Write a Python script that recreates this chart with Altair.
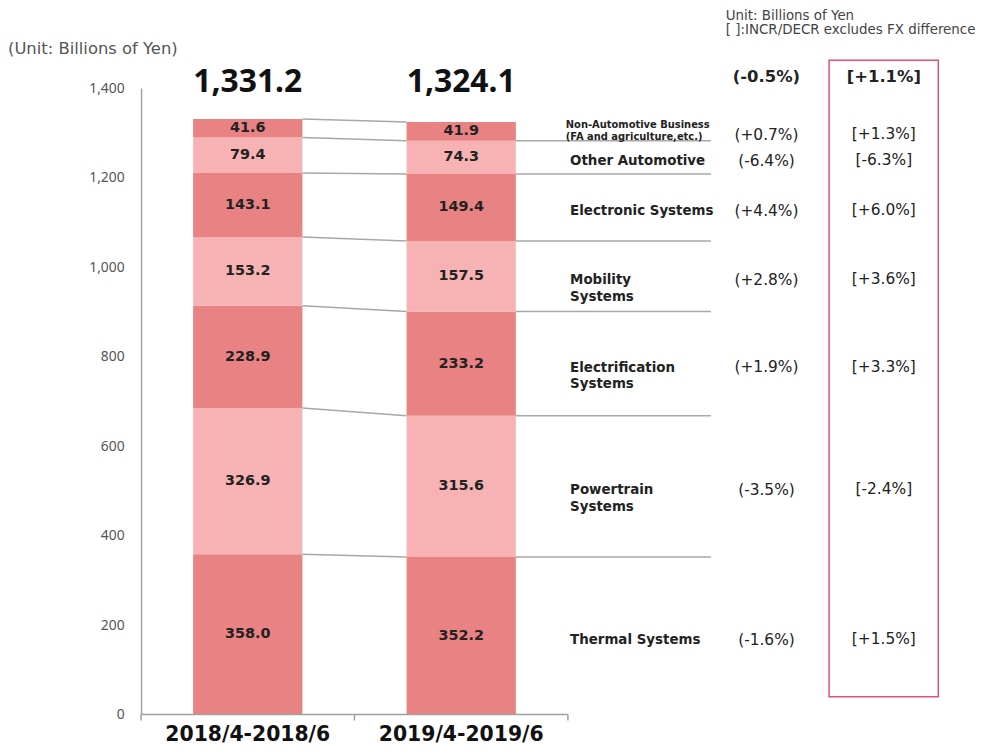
import altair as alt
import pandas as pd

# ---- data ----
categories = ["2018/4-2018/6", "2019/4-2019/6"]
segments = ["Thermal Systems", "Powertrain Systems", "Electrification Systems",
            "Mobility Systems", "Electronic Systems", "Other Automotive",
            "Non-Automotive Business"]
seg_labels = ["Thermal Systems", "Powertrain\nSystems", "Electrification\nSystems",
              "Mobility\nSystems", "Electronic Systems", "Other Automotive",
              "Non-Automotive  Business\n(FA and agriculture,etc.)"]
v2018 = [358.0, 326.9, 228.9, 153.2, 143.1, 79.4, 41.6]
v2019 = [352.2, 315.6, 233.2, 157.5, 149.4, 74.3, 41.9]
totals = ["1,331.2", "1,324.1"]
pct = ["(-1.6%)", "(-3.5%)", "(+1.9%)", "(+2.8%)", "(+4.4%)", "(-6.4%)", "(+0.7%)"]
fx = ["[+1.5%]", "[-2.4%]", "[+3.3%]", "[+3.6%]", "[+6.0%]", "[-6.3%]", "[+1.3%]"]
total_pct = "(-0.5%)"
total_fx = "[+1.1%]"
shades = ["dark", "light", "dark", "light", "dark", "light", "dark"]
y_ticks = [0, 200, 400, 600, 800, 1000, 1200, 1400]

DARK = "#E98282"
LIGHT = "#F7B3B3"
LINE = "#A8A8A8"
BOX = "#E0507A"

W, H = 832, 631
XMAX = 3.87
HALF = 0.256

# ---- tables ----
rows = []
for ci, (cat, vals) in enumerate(zip(categories, [v2018, v2019])):
    base = 0.0
    for si, v in enumerate(vals):
        rows.append(dict(cat=cat, seg=segments[si], shade=shades[si],
                         x0=ci + 0.5 - HALF, x1=ci + 0.5 + HALF, xc=ci + 0.5,
                         y0=base, y1=base + v, ym=base + v / 2, label=f"{v:.1f}"))
        base += v
bars = pd.DataFrame(rows)

b18 = bars[bars.cat == categories[0]].reset_index(drop=True)
b19 = bars[bars.cat == categories[1]].reset_index(drop=True)
conn = pd.DataFrame(dict(xa=b18.x1, xb=b19.x0, ya=b18.y1, yb=b19.y1))
lead = pd.DataFrame(dict(xa=b19.x1.iloc[:-1], xb=[2.67] * 6, ya=b19.y1.iloc[:-1]))
side = pd.DataFrame(dict(name=seg_labels, pct=pct, fx=fx, ym=b19.ym,
                     small=[False] * 6 + [True]))
tot = pd.DataFrame(dict(xc=[0.5, 1.5], t=totals, cat=categories))

xs = alt.Scale(domain=[0, XMAX], nice=False, zero=False)
ys = alt.Scale(domain=[0, 1400], nice=False)
YAX = alt.Axis(values=y_ticks, format=",d", title=None, grid=False, ticks=False,
               labelPadding=17, domainColor="#A0A0A0", domainWidth=1.5,
               labelFont="Noto Sans", labelFontSize=14, labelColor="#555")
FONT = "DejaVu Sans"


def Y(field):
    return alt.Y(field, scale=ys, axis=YAX)


bar_layer = alt.Chart(bars).mark_bar().encode(
    x=alt.X("x0:Q", scale=xs, axis=None),
    x2="x1:Q",
    y=Y("y0:Q"),
    y2="y1:Q",
    color=alt.Color("shade:N", scale=alt.Scale(domain=["dark", "light"], range=[DARK, LIGHT]),
                    legend=None),
)

bar_text = alt.Chart(bars).mark_text(font=FONT, fontWeight="bold", fontSize=14.5,
                                     color="#222").encode(
    x=alt.X("xc:Q", scale=xs, axis=None),
    y=Y("ym:Q"),
    text="label:N",
)

conn_layer = alt.Chart(conn).mark_rule(color=LINE, strokeWidth=1.5).encode(
    x=alt.X("xa:Q", scale=xs, axis=None), x2="xb:Q",
    y=Y("ya:Q"), y2="yb:Q",
)
lead_layer = alt.Chart(lead).mark_rule(color=LINE, strokeWidth=1.5).encode(
    x=alt.X("xa:Q", scale=xs, axis=None), x2="xb:Q",
    y=Y("ya:Q"),
)

tot_layer = alt.Chart(tot).mark_text(font="Noto Sans", fontWeight="bold", fontSize=32,
                                     color="#111").encode(
    x=alt.X("xc:Q", scale=xs, axis=None), y=alt.value(-6), text="t:N",
)
cat_layer = alt.Chart(tot).mark_text(font=FONT, fontWeight="bold", fontSize=20.5,
                                     color="#111", baseline="alphabetic").encode(
    x=alt.X("xc:Q", scale=xs, axis=None), y=alt.value(H + 27), text="cat:N",
)

xaxis_df = pd.DataFrame(dict(a=[0.0], b=[2.0]))
xaxis_line = alt.Chart(xaxis_df).mark_rule(color="#A0A0A0", strokeWidth=1.5).encode(
    x=alt.X("a:Q", scale=xs, axis=None), x2="b:Q", y=alt.value(H),
)
ticks_df = pd.DataFrame(dict(a=[0.0, 1.0, 2.0]))
xticks = alt.Chart(ticks_df).mark_rule(color="#A0A0A0", strokeWidth=1.5).encode(
    x=alt.X("a:Q", scale=xs, axis=None), y=alt.value(H), y2=alt.value(H + 6),
)

names = alt.Chart(side[~side.small]).mark_text(
    font=FONT, fontWeight="bold", fontSize=13.5, color="#222", align="left",
    lineBreak="\n", lineHeight=17, dy=4).encode(
    x=alt.value(2.01 * W / XMAX), y=Y("ym:Q"), text="name:N",
)
names_small = alt.Chart(side[side.small]).mark_text(
    font=FONT, fontWeight="bold", fontSize=10, color="#222", align="left",
    lineBreak="\n", lineHeight=12, dy=-6).encode(
    x=alt.value(1.99 * W / XMAX), y=Y("ym:Q"), text="name:N",
)
pct_layer = alt.Chart(side).mark_text(font=FONT, fontSize=15.5, color="#222", dy=4).encode(
    x=alt.value(2.93 * W / XMAX), y=Y("ym:Q"), text="pct:N",
)
fx_layer = alt.Chart(side).mark_text(font=FONT, fontSize=15.5, color="#222", dy=3).encode(
    x=alt.value(3.48 * W / XMAX), y=Y("ym:Q"), text="fx:N",
)

top_df = pd.DataFrame(dict(p=[total_pct], f=[total_fx]))
top_pct = alt.Chart(top_df).mark_text(font=FONT, fontWeight="bold", fontSize=16.5,
                                      color="#222").encode(
    x=alt.value(2.93 * W / XMAX), y=alt.value(-11), text="p:N")
top_fx = alt.Chart(top_df).mark_text(font=FONT, fontWeight="bold", fontSize=16.5,
                                     color="#222").encode(
    x=alt.value(3.48 * W / XMAX), y=alt.value(-11), text="f:N")

box = alt.Chart(top_df).mark_rect(fillOpacity=0, stroke=BOX, strokeWidth=1.5).encode(
    x=alt.value(693), x2=alt.value(803), y=alt.value(-28), y2=alt.value(613),
)

notes_df = pd.DataFrame(dict(t=["Unit: Billions of Yen"]))
unit_left = alt.Chart(notes_df).mark_text(font=FONT, fontSize=16.5, color="#555",
                                          align="left").encode(
    x=alt.value(-134), y=alt.value(-39), text=alt.value("(Unit: Billions of Yen)"))
unit_right1 = alt.Chart(notes_df).mark_text(font=FONT, fontSize=13.5, color="#444",
                                            align="left").encode(
    x=alt.value(589), y=alt.value(-73), text=alt.value("Unit: Billions of Yen"))
unit_right2 = alt.Chart(notes_df).mark_text(font=FONT, fontSize=13.5, color="#444",
                                            align="left").encode(
    x=alt.value(589), y=alt.value(-58),
    text=alt.value("[ ]:INCR/DECR excludes FX difference"))

chart = alt.layer(
    bar_layer, conn_layer, lead_layer, bar_text, tot_layer, cat_layer, xaxis_line, xticks,
    names, names_small, pct_layer, fx_layer, top_pct, top_fx, box,
    unit_left, unit_right1, unit_right2,
).properties(
    width=W, height=H,
    autosize=alt.AutoSizeParams(type="none"),
    padding={"left": 134, "top": 78, "right": 10, "bottom": 30},
).configure_view(stroke=None)

chart.save("out.html", embed_options={"renderer": "svg", "actions": False})
